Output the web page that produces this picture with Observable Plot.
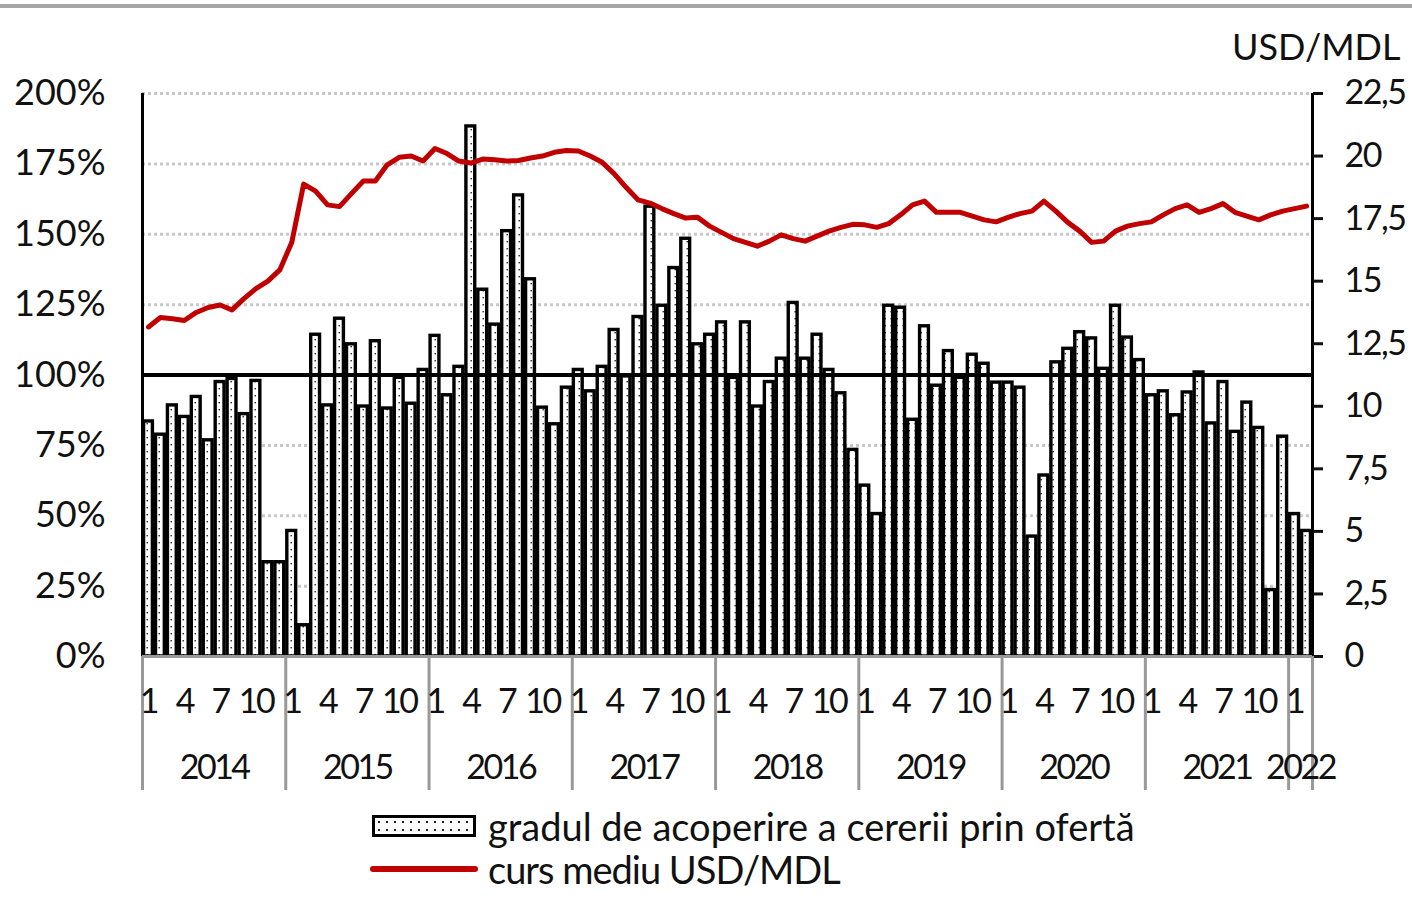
<!DOCTYPE html>
<html><head><meta charset="utf-8">
<script src="https://cdn.jsdelivr.net/npm/d3@7"></script>
<script src="https://cdn.jsdelivr.net/npm/@observablehq/plot@0.6"></script>
<style>
body{margin:0;background:#fff;font-family:Lato,sans-serif;}
#wrap{position:relative;width:1412px;height:903px;overflow:hidden;background:#fff;}
#topline{position:absolute;left:0;top:4px;width:1412px;height:4px;background:#a6a6a6;}
#chart{position:absolute;left:0;top:0;}
.lg{position:absolute;font-family:Lato,sans-serif;font-size:38px;line-height:40px;color:#111;white-space:nowrap;}
#sw1{position:absolute;left:372px;top:815px;width:98px;height:16px;border:3px solid #000;background-color:#fff;
 background-image:radial-gradient(circle,#222 0.8px,transparent 1px);background-size:8px 8px;}
#sw2{position:absolute;left:370px;top:866px;width:108px;height:6px;background:#c00000;border-radius:3px;}
</style></head>
<body>
<div id="wrap">
 <div id="chart"></div>
 <div id="topline"></div>
 <div id="sw1"></div><div class="lg" style="left:488px;top:806px;">gradul de acoperire a cererii prin ofertă</div>
 <div id="sw2"></div><div class="lg" style="left:488px;top:849px;letter-spacing:-1px;">curs mediu USD/MDL</div>
</div>
<script>
const years = [2014, 2015, 2016, 2017, 2018, 2019, 2020, 2021, 2022];
const monthLabels = [1, 4, 7, 10];
const leftTicks = [0, 25, 50, 75, 100, 125, 150, 175, 200];
const gridVals = [25, 50, 75, 125, 150, 175, 200];
const rightTicks = [0, 2.5, 5, 7.5, 10, 12.5, 15, 17.5, 20, 22.5];
// gradul de acoperire a cererii prin ofertă, %, monthly Jan 2014 - Feb 2022
const coverage = [
  83.5, 78.8, 89.2, 85.1, 92.2, 76.8, 97.5, 98.6, 86.1, 97.9, 33.5, 33.5,
  44.6, 11.1, 114.3, 89.2, 120, 110.9, 88.8, 112, 88.1, 99, 89.8, 101.8,
  113.9, 92.8, 102.9, 188.3, 130.3, 117.9, 151.1, 163.8, 134, 88.4, 82.5, 95.5,
  101.8, 94.2, 102.9, 116, 99.5, 120.6, 159.8, 124.6, 138, 148.4, 110.9, 114.3,
  118.7, 99, 118.7, 88.8, 97.5, 105.8, 125.6, 105.8, 114.3, 101.8, 93.5, 73.4,
  60.7, 50.6, 124.6, 123.9, 84.1, 117.3, 96.2, 108.5, 99, 107.2, 104, 97.3,
  97.3, 95.5, 42.6, 64.3, 104.5, 109.3, 115.2, 113, 102.2, 124.6, 113.3, 105.3,
  92.8, 94.2, 85.7, 93.8, 100.9, 82.8, 97.5, 79.8, 90.2, 81.2, 23.6, 78.1,
  50.6, 44.6
];
// curs mediu USD/MDL
const rate = [
  13.17, 13.55, 13.5, 13.43, 13.75, 13.95, 14.05, 13.85, 14.3, 14.7, 15.0, 15.45,
  16.55, 18.88, 18.6, 18.05, 17.98, 18.5, 19.0, 19.0, 19.65, 19.95, 20.0, 19.8,
  20.3, 20.1, 19.8, 19.72, 19.88, 19.85, 19.8, 19.82, 19.92, 20.0, 20.15, 20.22,
  20.2, 20.0, 19.75, 19.3, 18.75, 18.25, 18.12, 17.9, 17.7, 17.52, 17.55, 17.2,
  16.95, 16.7, 16.55, 16.4, 16.6, 16.85, 16.7, 16.6, 16.8, 17.0, 17.15, 17.27,
  17.25, 17.15, 17.3, 17.65, 18.05, 18.2, 17.75, 17.75, 17.75, 17.6, 17.45, 17.37,
  17.55, 17.7, 17.8, 18.2, 17.8, 17.35, 17.0, 16.55, 16.6, 17.0, 17.2, 17.3,
  17.37, 17.65, 17.9, 18.05, 17.75, 17.9, 18.1, 17.75, 17.6, 17.45, 17.65, 17.8,
  17.9, 18.0
];

const n = coverage.length;
const k = 200 / 22.5;
const data = coverage.map((v, i) => ({i, v, rate: rate[i]}));
const bounds = years.map((y, j) => j * 12).concat([n]);
const monthTicks = data.filter(d => monthLabels.includes(d.i % 12 + 1)).map(d => d.i + 0.5);
const yearCenters = years.map((y, j) => (j * 12 + Math.min(j * 12 + 12, n)) / 2);
const fmt = v => String(+v.toFixed(1)).replace(".", ",");
const FS = 36, FSB = 34;

const chart = Plot.plot({
  width: 1412, height: 800,
  marginLeft: 142, marginRight: 100, marginTop: 93, marginBottom: 144,
  style: {fontFamily: "Lato, sans-serif", fontSize: FS + "px", color: "#111", background: "transparent", overflow: "visible"},
  x: {type: "linear", domain: [0, n], label: null},
  y: {domain: [0, 200], label: null},
  marks: [
    Plot.ruleY(gridVals, {stroke: "#c8c8c8", strokeWidth: 3, strokeDasharray: "3,3"}),
    Plot.rectY(data, {x1: d => d.i + 0.13, x2: d => d.i + 0.87, y1: 0, y2: "v", fill: "url(#dots)", stroke: "#000", strokeWidth: 3.4}),
    Plot.ruleY([100], {stroke: "#000", strokeWidth: 4}),
    Plot.line(data, {x: d => d.i + 0.5, y: d => d.rate * k, stroke: "#c00000", strokeWidth: 5, strokeLinejoin: "round"}),
    Plot.ruleX([0], {y1: 0, y2: 200, stroke: "#000", strokeWidth: 3}),
    Plot.ruleX([n], {y1: 0, y2: 200, stroke: "#000", strokeWidth: 3}),
    Plot.ruleY([0], {stroke: "#999", strokeWidth: 3}),
    Plot.axisY({ticks: leftTicks, tickFormat: d => d + "%", tickSize: 0, tickPadding: 37, fontSize: FS, label: null}),
    Plot.axisY({anchor: "right", ticks: rightTicks.map(v => v * k), tickFormat: v => fmt(v / k), tickSize: 10, tickPadding: 22, strokeWidth: 3, fontSize: FSB, label: null}),
    Plot.axisX({ticks: bounds, tickSize: 134, tickFormat: () => "", stroke: "#999", strokeWidth: 3, label: null}),
    Plot.axisX({ticks: monthTicks, tickSize: 0, tickPadding: 32, tickFormat: v => String(Math.floor(v) % 12 + 1), fontSize: FSB, label: null}),
    Plot.axisX({ticks: yearCenters, tickSize: 0, tickPadding: 98, tickFormat: c => String(years[Math.floor(c / 12)]), fontSize: FSB, label: null}),
    Plot.text(["USD/MDL"], {frameAnchor: "top-right", dx: 88, dy: -45, textAnchor: "end", lineAnchor: "middle", fontSize: FS})
  ]
});
const ns = "http://www.w3.org/2000/svg";
const defs = document.createElementNS(ns, "defs");
defs.innerHTML = '<pattern id="dots" width="6" height="7" patternUnits="userSpaceOnUse"><rect width="6" height="7" fill="#fff"/><rect x="2.5" y="3" width="1.4" height="1.4" fill="#222"/></pattern>';
chart.insertBefore(defs, chart.firstChild);
document.getElementById("chart").appendChild(chart);
// narrower digit spacing for the bottom and right tick labels
chart.querySelectorAll('g[aria-label="x-axis tick label"]').forEach(g => { g.style.letterSpacing = "-2.5px"; });
chart.querySelectorAll('g[aria-label="y-axis tick label"]').forEach(g => {
  const b = g.getBBox();
  if (b.x > 700) g.style.letterSpacing = "-1.5px";
});
</script>
</body></html>
